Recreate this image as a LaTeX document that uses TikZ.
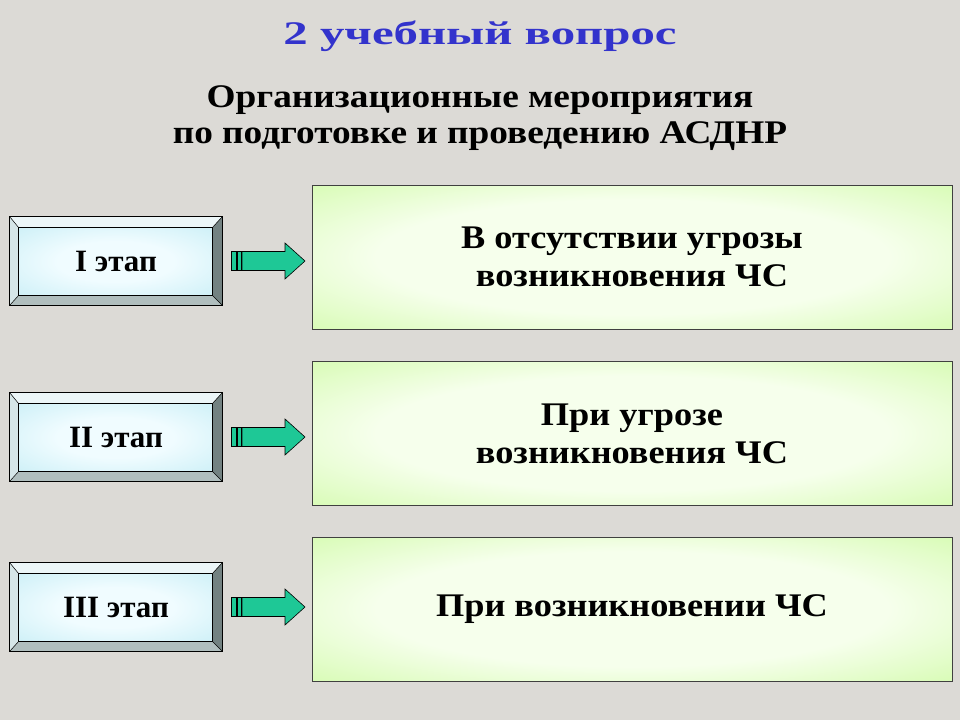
\documentclass[tikz,border=0pt]{standalone}
\usepackage{fontspec}
\setmainfont{Liberation Serif}
\newfontfamily\titlefont[FakeStretch=1.48]{Liberation Serif}
\newfontfamily\subfont[FakeStretch=1.13]{Liberation Serif}
\newfontfamily\boxfont[FakeStretch=1.1]{Liberation Serif}
\usetikzlibrary{calc}
\definecolor{bg}{RGB}{220,218,214}
\definecolor{titleblue}{RGB}{51,51,204}
\definecolor{gout}{RGB}{204,250,160}
\definecolor{gin}{RGB}{246,255,236}
\definecolor{cout}{RGB}{200,238,246}
\definecolor{cin}{RGB}{240,252,255}
\definecolor{bevtop}{RGB}{236,246,248}
\definecolor{bevleft}{RGB}{214,230,232}
\definecolor{bevright}{RGB}{115,130,130}
\definecolor{bevbot}{RGB}{176,190,190}
\definecolor{arrowgreen}{RGB}{30,200,150}
\pgfdeclareradialshading{greenglow}{\pgfpoint{0bp}{0bp}}{color(0bp)=(gin); color(20bp)=(gin); color(42bp)=(gout); color(50bp)=(gout)}
\pgfdeclareradialshading{cyanglow}{\pgfpoint{0bp}{0bp}}{color(0bp)=(cin); color(15bp)=(cin); color(40bp)=(cout); color(50bp)=(cout)}
\tikzset{
  titletext/.style={font=\titlefont\fontsize{33}{40}\selectfont\bfseries, text=titleblue, anchor=base, inner sep=0pt},
  subtext/.style={font=\subfont\fontsize{33}{36}\selectfont\bfseries, anchor=base, inner sep=0pt},
  resultbox/.style={draw=black!75, line width=0.8pt, shading=greenglow, minimum width=640pt, minimum height=144pt, inner sep=0pt, align=center, font=\boxfont\fontsize{33}{38}\selectfont\bfseries},
  stagebox/.style={minimum width=212pt, minimum height=88pt, inner sep=0pt},
  stagetext/.style={font=\fontsize{31}{34}\selectfont\bfseries},
  blockarrow/.style={fill=arrowgreen, draw=black, line width=0.6pt, line join=miter},
}
\begin{document}
\begin{tikzpicture}[x=1pt,y=-1pt]
\useasboundingbox (0,0) rectangle (960,720);
\fill[bg] (0,0) rectangle (960,720);

\node[titletext] (title) at (480,44) {2 учебный вопрос};
\node[subtext] (sub1) at (480,107) {Организационные мероприятия};
\node[subtext] (sub2) at (480,143) {по подготовке и проведению АСДНР};

\foreach \n/\cy/\lab in {a/261/I, b/437/II, c/607/III}{
  \node[stagebox] (s\n) at (116,\cy) {};
  \coordinate (i\n nw) at ($(s\n.north west)+(9,11)$);
  \coordinate (i\n ne) at ($(s\n.north east)+(-10,11)$);
  \coordinate (i\n se) at ($(s\n.south east)+(-10,-10)$);
  \coordinate (i\n sw) at ($(s\n.south west)+(9,-10)$);
  \fill[bevtop] (s\n.north west) -- (s\n.north east) -- (i\n ne) -- (i\n nw) -- cycle;
  \fill[bevleft] (s\n.north west) -- (i\n nw) -- (i\n sw) -- (s\n.south west) -- cycle;
  \fill[bevright] (s\n.north east) -- (s\n.south east) -- (i\n se) -- (i\n ne) -- cycle;
  \fill[bevbot] (s\n.south west) -- (i\n sw) -- (i\n se) -- (s\n.south east) -- cycle;
  \shade[shading=cyanglow] (i\n nw) rectangle (i\n se);
  \draw[black, line width=0.8pt] (s\n.north west) rectangle (s\n.south east);
  \draw[black, line width=0.8pt] (i\n nw) rectangle (i\n se);
  \draw[black, line width=0.5pt] (s\n.north west) -- (i\n nw) (s\n.north east) -- (i\n ne)
     (s\n.south east) -- (i\n se) (s\n.south west) -- (i\n sw);
  \node[stagetext] (t\n) at (s\n) {\lab\ этап};
  % block arrow
  \draw[blockarrow] (231.5,\cy-9.5) rectangle (236,\cy+9.5);
  \draw[blockarrow] (237,\cy-9.5) rectangle (241,\cy+9.5);
  \draw[blockarrow] (242,\cy-9.5) -- (285,\cy-9.5) -- (285,\cy-18) -- (305,\cy) -- (285,\cy+18) -- (285,\cy+9.5) -- (242,\cy+9.5) -- cycle;
}

\node[resultbox] (g1) at (632,257) {В отсутствии угрозы\\возникновения ЧС};
\node[resultbox] (g2) at (632,433.5) {При угрозе\\возникновения ЧС};
\node[resultbox] (g3) at (632,609) {При возникновении ЧС};
\end{tikzpicture}
\end{document}
